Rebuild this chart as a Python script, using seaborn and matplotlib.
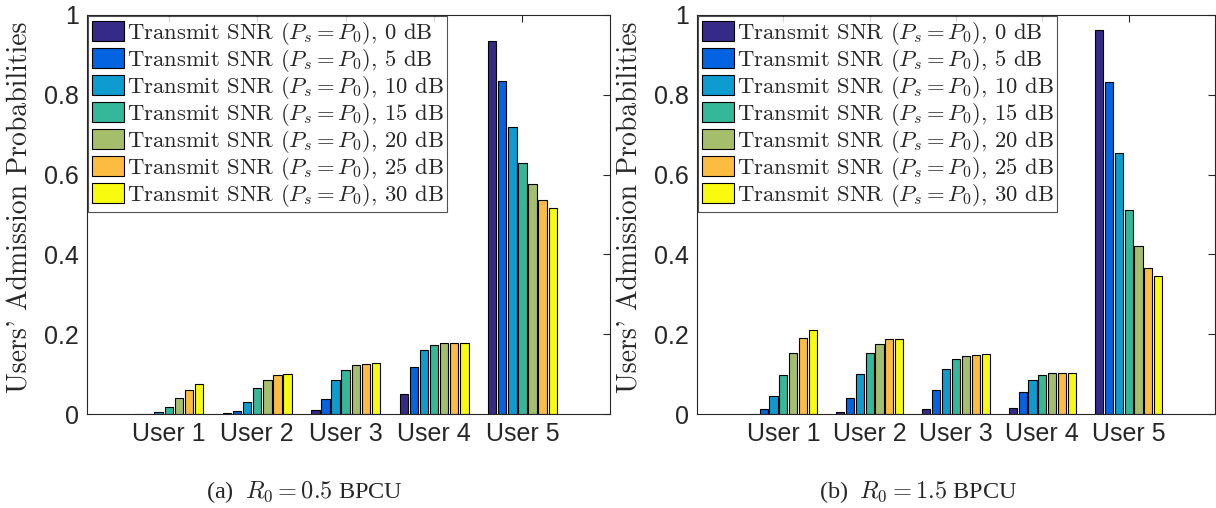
import numpy as np
import pandas as pd
import matplotlib
matplotlib.use("Agg")
import matplotlib.pyplot as plt
import matplotlib.ticker as mticker
import seaborn as sns

# categories
users = ['User 1', 'User 2', 'User 3', 'User 4', 'User 5']
snr_db = [0, 5, 10, 15, 20, 25, 30]

# admission probabilities, one row per user, one column per transmit SNR
# (a) R0 = 0.5 BPCU
probs_a = [
    [0.000, 0.001, 0.005, 0.018, 0.039, 0.061, 0.075],
    [0.002, 0.008, 0.029, 0.065, 0.085, 0.097, 0.100],
    [0.011, 0.038, 0.084, 0.111, 0.123, 0.126, 0.127],
    [0.050, 0.117, 0.160, 0.174, 0.178, 0.179, 0.179],
    [0.935, 0.834, 0.720, 0.630, 0.576, 0.536, 0.517],
]
# (b) R0 = 1.5 BPCU
probs_b = [
    [0.000, 0.013, 0.045, 0.098, 0.153, 0.191, 0.211],
    [0.006, 0.040, 0.100, 0.152, 0.176, 0.188, 0.188],
    [0.013, 0.061, 0.113, 0.138, 0.145, 0.148, 0.150],
    [0.015, 0.056, 0.086, 0.098, 0.103, 0.104, 0.103],
    [0.963, 0.831, 0.655, 0.511, 0.421, 0.367, 0.345],
]

captions = [r'(a)  $R_0 = 0.5$ BPCU', r'(b)  $R_0 = 1.5$ BPCU']

# parula-like colours, one per SNR
colors = ['#352A87', '#0363E1', '#0E9BD0', '#35B79A', '#A5BE6B', '#FBBC41', '#F9FB0E']

sns.set_style("white")
plt.rcParams['mathtext.fontset'] = 'cm'
plt.rcParams['font.family'] = ['Liberation Sans', 'DejaVu Sans']
plt.rcParams['axes.unicode_minus'] = False


def to_long(probs):
    rows = []
    for u, user in enumerate(users):
        for s, snr in enumerate(snr_db):
            rows.append({'user': user,
                         'snr': r'Transmit SNR ($P_s = P_0$), %d dB' % snr,
                         'prob': probs[u][s]})
    return pd.DataFrame(rows)


fig = plt.figure(figsize=(12.16, 5.08), dpi=100)
ax_a = fig.add_axes([87 / 1216, 94 / 508, 523 / 1216, 399 / 508])
ax_b = fig.add_axes([697 / 1216, 94 / 508, 518 / 1216, 399 / 508])

axis_col = '#262626'
for ax, probs, xl, cap, cx, lx in [(ax_a, probs_a, (-0.925, 4.99), captions[0], 304, -0.103),
                                   (ax_b, probs_b, (-1.0, 5.0), captions[1], 918, -0.103)]:
    df = to_long(probs)
    sns.barplot(data=df, x='user', y='prob', hue='snr', palette=colors,
                saturation=1, width=0.8, gap=0.17, edgecolor='black',
                linewidth=0.8, errorbar=None, ax=ax)
    ax.set_xlim(*xl)
    ax.set_ylim(0, 1)
    ax.set_yticks(np.arange(0, 1.01, 0.2))
    ax.yaxis.set_major_formatter(mticker.FormatStrFormatter('%g'))
    ax.set_xlabel('')
    ax.set_ylabel("Users' Admission Probabilities", family='cmr10', fontsize=20,
                  color=axis_col)
    ax.yaxis.set_label_coords(lx, 0.5175)
    ax.tick_params(axis='both', direction='in', length=5, width=0.8,
                   labelsize=18, colors=axis_col, top=True, right=True, pad=6)
    for sp in ax.spines.values():
        sp.set_visible(True)
        sp.set_color(axis_col)
        sp.set_linewidth(0.8)

    handles, labels = ax.get_legend_handles_labels()
    leg = ax.legend(handles, labels, loc='upper left', bbox_to_anchor=(0, 1),
                    borderaxespad=0.05, frameon=True, fancybox=False,
                    prop={'family': 'cmr10', 'size': 16.3},
                    handlelength=1.45, handleheight=0.95, handletextpad=0.12,
                    labelspacing=0.0, borderpad=0.15)
    leg.get_frame().set_edgecolor(axis_col)
    leg.get_frame().set_linewidth(0.8)

    fig.text(cx / 1216, 1 - 492 / 508, cap, ha='center', va='center',
             family='Liberation Serif', fontsize=17.5)

fig.savefig('out.png', dpi=100)
